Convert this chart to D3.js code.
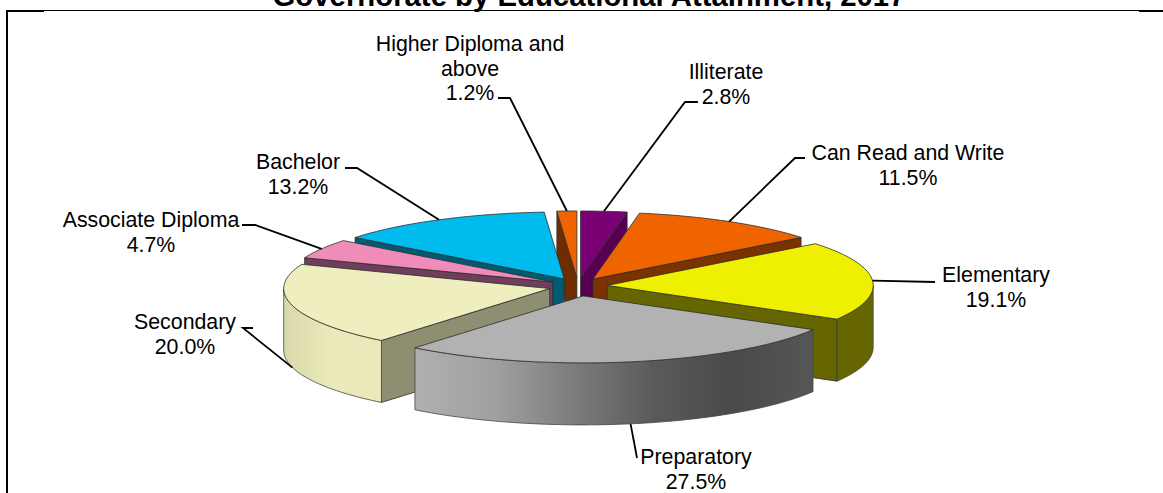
<!DOCTYPE html>
<html>
<head>
<meta charset="utf-8">
<script src="https://cdn.jsdelivr.net/npm/d3@7"></script>
<style>
  html, body { margin: 0; padding: 0; background: #fff; overflow: hidden; }
  text { font-family: "Liberation Sans", Arial, sans-serif; fill: #000; }
</style>
</head>
<body>
<svg id="chart" width="1163" height="493"></svg>
<script>
const categories = ["Illiterate", "Can Read and Write", "Elementary", "Preparatory",
    "Secondary", "Associate Diploma", "Bachelor", "Higher Diploma and above"]
const shares = [2.8, 11.5, 19.1, 27.5, 20.0, 4.7, 13.2, 1.2]
const titleText = "Governorate by Educational Attainment, 2017"

// label wrapping, one entry per category
const labelLines = [["Illiterate"], ["Can Read and Write"], ["Elementary"], ["Preparatory"],
    ["Secondary"], ["Associate Diploma"], ["Bachelor"], ["Higher Diploma and", "above"]]

// colours: top face, cut face, outer wall (gradient stops)
const topColors = ["#7a0073", "#f06400", "#efef00", "#b2b2b2", "#eeeebe", "#f08cba", "#00bbee", "#f06400"]
const cutColors = ["#570052", "#7a3300", "#666600", "#808080", "#8e8e70", "#6e3e5a", "#005a72", "#6e2c00"]
const wallStops = [
    ["#570052", "#570052"], ["#7a3300", "#7a3300"], ["#666600", "#666600"],
    ["#b0b0b0", "#a0a0a0", "#7c7c7c", "#5a5a5a", "#4a4a4a", "#565656"],
    ["#d8d8aa", "#eaeaba", "#e8e8b8"], ["#6e3e5a", "#6e3e5a"], ["#005a72", "#005a72"], ["#6e2c00", "#6e2c00"]
]

// layout of the labels: centre x, first baseline, leader start, leader bend
const labelX = [726, 908, 996, 696, 185, 151, 298, 470]
const labelY = [79, 160, 282, 464, 329, 227, 169, 51]
const leaderStart = [[698, 102], [805, 158], [935, 282], [637, 458], [253, 328], [242, 225], [345, 168], [498, 98]]
const leaderBend = [[685, 102], [795, 158], null, null, [243, 328], [255, 225], [357, 168], [510, 98]]

const width = 1163, height = 493
const cx = 578, cy = 286, rx = 266, ry = 67, depth = 62
const lineGap = 24.5

const svg = d3.select("#chart")
const defs = svg.append("defs")

const x = d3.scaleLinear().domain([-1, 1]).range([cx - rx, cx + rx])
const y = d3.scaleLinear().domain([-1, 1]).range([cy - ry, cy + ry])

const slices = d3.pie().sort(null).value(d => d)(shares).map((s, i) => {
    const mid = (s.startAngle + s.endAngle) / 2
    // explosion goes a bit further in front than at the back
    const ey = Math.cos(mid) > 0 ? 0.12 : 0.15
    return {
        i,
        a0: s.startAngle,
        a1: s.endAngle,
        mid,
        ox: 0.11 * Math.sin(mid),
        oy: -ey * Math.cos(mid)
    }
})

const rimPoint = (s, a, drop = 0) => [
    x(s.ox + Math.sin(a)),
    y(s.oy - Math.cos(a)) + drop
]
const apex = (s, drop = 0) => [x(s.ox), y(s.oy) + drop]

const line = d3.line()

const arcPoints = (s, a0, a1, drop = 0) => {
    const n = Math.max(2, Math.ceil((a1 - a0) * 40))
    return d3.range(n + 1).map(k => rimPoint(s, a0 + (a1 - a0) * k / n, drop))
}

const drawOrder = d3.range(slices.length).sort((a, b) => Math.cos(slices[b].mid) - Math.cos(slices[a].mid))

const edge = "#2e2e2e"
const g = svg.append("g")

drawOrder.forEach(k => {
    const s = slices[k]
    const slice = g.append("g").attr("class", "slice")

    // cut faces turned towards the viewer
    const cutAngles = []
    if (Math.sin(s.a1) > 0) cutAngles.push(s.a1)
    if (Math.sin(s.a0) < 0) cutAngles.push(s.a0)
    cutAngles.forEach(a => {
        slice.append("path")
            .attr("d", line([apex(s), rimPoint(s, a), rimPoint(s, a, depth), apex(s, depth)]) + "Z")
            .attr("fill", cutColors[k])
            .attr("stroke", edge)
            .attr("stroke-width", 0.8)
            .attr("stroke-linejoin", "round")
    })

    // outer wall, only the front half of the rim
    const w0 = Math.max(s.a0, Math.PI / 2)
    const w1 = Math.min(s.a1, Math.PI * 1.5)
    if (w1 > w0) {
        const top = arcPoints(s, w0, w1)
        const bottom = arcPoints(s, w0, w1, depth).reverse()
        const grad = defs.append("linearGradient").attr("id", "wall" + k)
        wallStops[k].forEach((c, j) => {
            grad.append("stop")
                .attr("offset", j / (wallStops[k].length - 1))
                .attr("stop-color", c)
        })
        const xs = top.map(p => p[0])
        grad.attr("gradientUnits", "userSpaceOnUse")
            .attr("x1", d3.min(xs)).attr("x2", d3.max(xs))
            .attr("y1", 0).attr("y2", 0)
        slice.append("path")
            .attr("d", line(top.concat(bottom)) + "Z")
            .attr("fill", `url(#wall${k})`)
            .attr("stroke", "#444")
            .attr("stroke-width", 0.8)
    }

    // top face
    slice.append("path")
        .attr("d", line([apex(s)].concat(arcPoints(s, s.a0, s.a1))) + "Z")
        .attr("fill", topColors[k])
        .attr("stroke", edge)
        .attr("stroke-width", 0.8)
        .attr("stroke-linejoin", "round")
})

// leader lines end on the visible rim at the slice middle
slices.forEach((s, k) => {
    const front = Math.cos(s.mid) < -0.2
    const pts = [leaderStart[k]]
    if (leaderBend[k]) pts.push(leaderBend[k])
    pts.push(rimPoint(s, s.mid, front ? depth : 0))
    svg.append("path")
        .attr("d", line(pts))
        .attr("fill", "none")
        .attr("stroke", "#000")
        .attr("stroke-width", 1.8)
})

// labels
categories.forEach((c, k) => {
    const t = svg.append("text")
        .attr("text-anchor", "middle")
        .attr("font-size", 21.33)
    const rows = labelLines[k].concat([shares[k].toFixed(1) + "%"])
    rows.forEach((r, j) => {
        t.append("tspan")
            .attr("x", labelX[k])
            .attr("y", labelY[k] + j * lineGap)
            .text(r)
    })
})

// title, cut by the top of the page
svg.append("text")
    .attr("x", 589)
    .attr("y", 6)
    .attr("text-anchor", "middle")
    .attr("font-size", 29.33)
    .attr("font-weight", "bold")
    .text(titleText)

// frame: only top and left are on the page
const frame = svg.append("g").attr("stroke", "#000")
frame.append("line").attr("x1", 7).attr("x2", width).attr("y1", 10.5).attr("y2", 10.5).attr("stroke-width", 1)
frame.append("line").attr("x1", 7).attr("x2", 7).attr("y1", 10).attr("y2", height).attr("stroke-width", 2)
frame.append("line").attr("x1", 7).attr("x2", 44).attr("y1", 11).attr("y2", 11).attr("stroke-width", 2)
frame.append("line").attr("x1", 1139).attr("x2", width).attr("y1", 11).attr("y2", 11).attr("stroke-width", 2)
</script>
</body>
</html>
